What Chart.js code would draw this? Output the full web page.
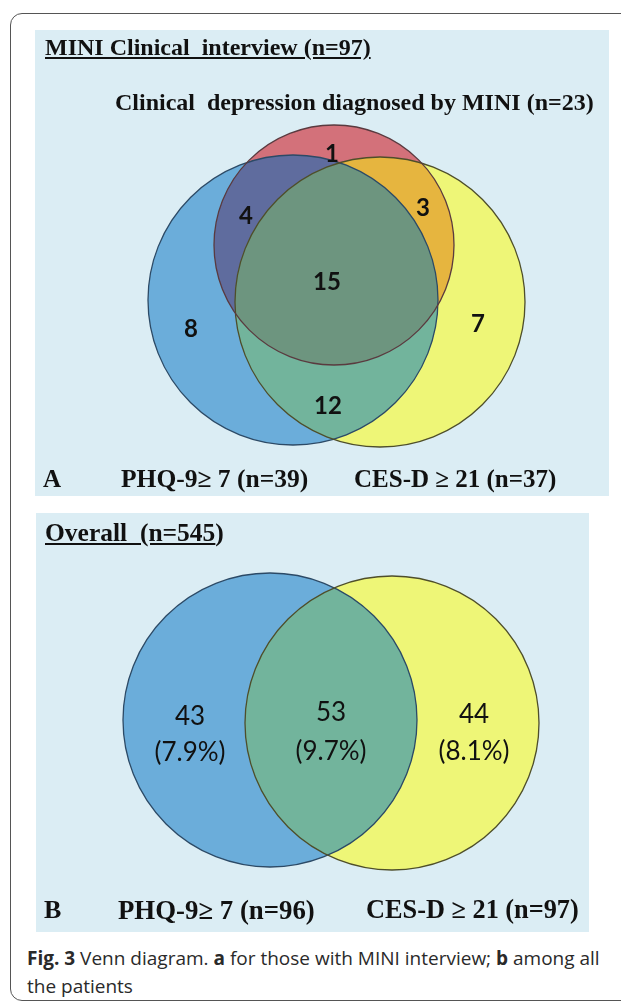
<!DOCTYPE html>
<html>
<head>
<meta charset="utf-8">
<script src="https://cdn.jsdelivr.net/npm/chart.js@4/dist/chart.umd.min.js"></script>
<style>
  body { margin: 0; width: 621px; height: 1003px; background: #fff; position: relative; overflow: hidden; }
  .frame { position: absolute; left: 10px; top: 13px; width: 640px; height: 986px; border: 1.5px solid #555; border-radius: 12px; }
  .panel { position: absolute; background: #dbedf4; }
  .serif { position: absolute; font-family: "Liberation Serif", "Times New Roman", serif; font-weight: bold; color: #111; line-height: 1; white-space: pre; }
  canvas { position: absolute; }
  .caption { position: absolute; left: 27px; font-family: "Open Sans", sans-serif; font-size: 19px; line-height: 1; color: #2a2a2a; white-space: pre; }
</style>
</head>
<body>
<div class="frame"></div>

<div class="panel" style="left:35px; top:30px; width:574px; height:466px;"></div>
<div class="panel" style="left:36px; top:513px; width:553px; height:419px;"></div>

<canvas id="vennA" width="574" height="466" style="left:35px; top:30px;"></canvas>
<canvas id="vennB" width="553" height="419" style="left:36px; top:513px;"></canvas>

<div class="serif" style="left:45px; top:35px; font-size:24px;"><u>MINI Clinical  interview (n=97)</u></div>
<div class="serif" style="left:115px; top:90px; font-size:24px;">Clinical  depression diagnosed by MINI (n=23)</div>
<div class="serif" style="left:43px; top:466px; font-size:25px;">A</div>
<div class="serif" style="left:121px; top:466px; font-size:25.5px;">PHQ-9≥ 7 (n=39)</div>
<div class="serif" style="left:354px; top:466px; font-size:25px;">CES-D ≥ 21 (n=37)</div>

<div class="serif" style="left:45px; top:520px; font-size:25.5px;"><u>Overall  (n=545</u>)</div>
<div class="serif" style="left:44px; top:897px; font-size:26px;">B</div>
<div class="serif" style="left:118px; top:897px; font-size:26.8px;">PHQ-9≥ 7 (n=96)</div>
<div class="serif" style="left:366px; top:897px; font-size:26.3px;">CES-D ≥ 21 (n=97)</div>

<div class="caption" style="top:949px;"><b>Fig. 3</b> Venn diagram. <b>a</b> for those with MINI interview; <b>b</b> among all</div>
<div class="caption" style="top:977px;">the patients</div>

<script>
// Panel A: MINI clinical interview (n=97)
const setsA = ['PHQ-9 ≥ 7', 'CES-D ≥ 21', 'MINI depression'];
const centerXA = [293, 380, 334];
const centerYA = [300, 302, 245];
const radiusA = [145, 145, 120];
const countsA = ['1', '4', '3', '15', '8', '7', '12'];
const countXA = [332, 246, 423, 327, 191, 478, 328];
const countYA = [154, 216, 208, 282, 329, 324, 406];

// Panel B: overall (n=545)
const setsB = ['PHQ-9 ≥ 7', 'CES-D ≥ 21'];
const centerXB = [270, 392];
const centerYB = [720, 723];
const radiusB = [147, 147];
const countsB = ['43', '53', '44'];
const percentB = ['(7.9%)', '(9.7%)', '(8.1%)'];
const countXB = [190, 331, 474];
const countYB = [717, 713, 715];
const percentYB = [753, 752, 752];

const setColors = ['#6badda', '#eef677', '#d3717a'];
const setBorders = ['#2c4a66', '#4e4e2a', '#5a3a3f'];

// radius is given in x units, converted through the x scale
function radiusFromScale(ctx) {
    if (!ctx.raw) return 0;
    const s = ctx.chart.scales.x;
    return s.getPixelForValue(ctx.raw.x + ctx.raw.r) - s.getPixelForValue(ctx.raw.x);
}

const vennPlugin = {
    id: 'venn',
    afterDatasetsDraw(chart, args, opts) {
        const ctx = chart.ctx;
        const circles = chart.data.datasets.map((d, i) => {
            const el = chart.getDatasetMeta(i).data[0];
            return { x: el.x, y: el.y, r: el.options.radius };
        });
        // overlap regions
        opts.regions.forEach(reg => {
            ctx.save();
            reg.sets.forEach(k => {
                const c = circles[k];
                ctx.beginPath();
                ctx.arc(c.x, c.y, c.r, 0, Math.PI * 2);
                ctx.clip();
            });
            ctx.fillStyle = reg.color;
            ctx.fillRect(0, 0, chart.width, chart.height);
            ctx.restore();
        });
        // outlines
        circles.forEach((c, i) => {
            ctx.save();
            ctx.beginPath();
            ctx.arc(c.x, c.y, c.r, 0, Math.PI * 2);
            ctx.lineWidth = 1.3;
            ctx.strokeStyle = setBorders[i];
            ctx.stroke();
            ctx.restore();
        });
        // region labels
        const xs = chart.scales.x, ys = chart.scales.y;
        ctx.save();
        ctx.fillStyle = '#111';
        ctx.textAlign = 'center';
        ctx.textBaseline = 'middle';
        ctx.font = opts.font;
        opts.labels.forEach(l => {
            ctx.fillText(l.text, xs.getPixelForValue(l.x), ys.getPixelForValue(l.y));
        });
        ctx.restore();
    }
};

function makeVenn(id, sets, cx, cy, rr, box, regions, labels, font) {
    return new Chart(document.getElementById(id), {
        type: 'scatter',
        data: {
            datasets: sets.map((name, i) => ({
                label: name,
                data: [{ x: cx[i], y: cy[i], r: rr[i] }],
                pointRadius: radiusFromScale,
                pointHoverRadius: radiusFromScale,
                pointBackgroundColor: setColors[i],
                pointBorderWidth: 0,
                clip: false
            }))
        },
        options: {
            responsive: false,
            animation: false,
            devicePixelRatio: 1,
            events: [],
            layout: { padding: 0, autoPadding: false },
            scales: {
                x: { type: 'linear', min: box[0], max: box[1], display: false },
                y: { type: 'linear', min: box[2], max: box[3], reverse: true, display: false }
            },
            plugins: {
                legend: { display: false },
                tooltip: { enabled: false },
                venn: { regions: regions, labels: labels, font: font }
            }
        },
        plugins: [vennPlugin]
    });
}

makeVenn('vennA', setsA, centerXA, centerYA, radiusA, [35, 609, 30, 496],
    [
        { sets: [0, 2], color: '#5f6c9e' },
        { sets: [1, 2], color: '#e6b53f' },
        { sets: [0, 1], color: '#72b49c' },
        { sets: [0, 1, 2], color: '#6d957f' }
    ],
    countsA.map((t, i) => ({ text: t, x: countXA[i], y: countYA[i] })),
    'bold 24px Lato');

makeVenn('vennB', setsB, centerXB, centerYB, radiusB, [36, 589, 513, 932],
    [
        { sets: [0, 1], color: '#72b49c' }
    ],
    countsB.map((t, i) => ({ text: t, x: countXB[i], y: countYB[i] }))
        .concat(percentB.map((t, i) => ({ text: t, x: countXB[i], y: percentYB[i] }))),
    '26px Lato');
</script>
</body>
</html>
